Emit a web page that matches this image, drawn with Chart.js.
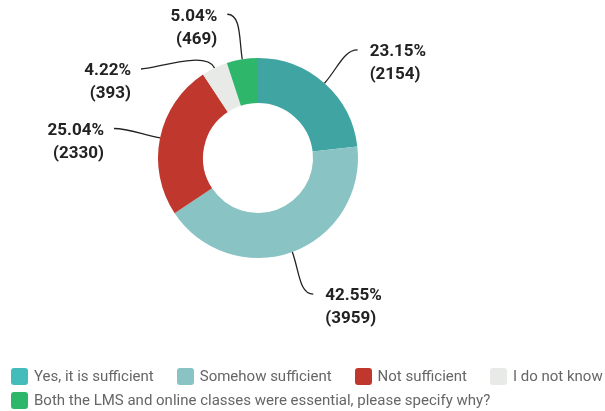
<!DOCTYPE html>
<html>
<head>
<meta charset="utf-8">
<script src="https://cdn.jsdelivr.net/npm/chart.js@4"></script>
<style>
  html, body { margin: 0; padding: 0; background: #fff; overflow: hidden; }
  #wrap { position: relative; width: 605px; height: 411px; }
  #legend {
    position: absolute; left: 11px; top: 367px; width: 640px;
    display: flex; flex-wrap: wrap; row-gap: 6px;
    font-family: Roboto, "Liberation Sans", sans-serif; font-size: 15px; color: #666;
  }
  .item { display: flex; align-items: center; margin-right: 23px; white-space: nowrap; height: 18px; }
  .box { width: 17px; height: 17px; border-radius: 3px; margin-right: 6px; }
</style>
</head>
<body>
<div id="wrap">
  <canvas id="donut" width="605" height="411"></canvas>
  <div id="legend"></div>
</div>
<script>
const answers = [
  'Yes, it is sufficient',
  'Somehow sufficient',
  'Not sufficient',
  'I do not know',
  'Both the LMS and online classes were essential, please specify why?'
];
const responses = [2154, 3959, 2330, 393, 469];
const sliceColors = ['#40a4a2', '#89c3c4', '#c0372e', '#e8eae7', '#2eb66a'];
const legendColors = ['#45bcbc', '#89c3c4', '#c0372e', '#e8eae7', '#2eb66a'];

// nudge (degrees) for callout ends so the small slices don't collide
const calloutShift = [1, -2, 0, -27, -3];

const total = responses.reduce((a, b) => a + b, 0);

const callouts = {
  id: 'callouts',
  afterDatasetsDraw(chart) {
    const ctx = chart.ctx;
    const meta = chart.getDatasetMeta(0);
    ctx.save();
    meta.data.forEach((arc, i) => {
      const p = arc.getProps(['x', 'y', 'startAngle', 'endAngle', 'outerRadius'], true);
      const mid = (p.startAngle + p.endAngle) / 2;
      const sx = p.x + Math.cos(mid) * p.outerRadius;
      const sy = p.y + Math.sin(mid) * p.outerRadius;
      const ea = mid + calloutShift[i] * Math.PI / 180;
      const ex = p.x + Math.cos(ea) * (p.outerRadius + 47);
      const ey = p.y + Math.sin(ea) * (p.outerRadius + 47);
      const right = Math.cos(ea) >= 0;

      ctx.beginPath();
      ctx.moveTo(sx, sy);
      ctx.bezierCurveTo(
        sx + Math.cos(mid) * 20, sy + Math.sin(mid) * 20,
        right ? ex - 14 : ex + 14, ey,
        ex, ey
      );
      ctx.strokeStyle = '#222';
      ctx.lineWidth = 1.3;
      ctx.stroke();

      const pct = (responses[i] / total * 100).toFixed(2) + '%';
      ctx.font = 'bold 17px Roboto, "Liberation Sans", sans-serif';
      ctx.fillStyle = '#222';
      ctx.textBaseline = 'middle';
      ctx.textAlign = right ? 'left' : 'right';
      const tx = right ? ex + 12 : ex - 10;
      ctx.fillText(pct, tx, ey + 2);
      ctx.fillText('(' + responses[i] + ')', tx, ey + 25);
    });
    ctx.restore();
  }
};

new Chart(document.getElementById('donut'), {
  type: 'doughnut',
  data: {
    labels: answers,
    datasets: [{
      data: responses,
      backgroundColor: sliceColors,
      borderWidth: 0
    }]
  },
  options: {
    responsive: false,
    animation: false,
    cutout: '55%',
    layout: { padding: { top: 58, bottom: 153, left: 158, right: 247 } },
    plugins: {
      legend: { display: false },
      tooltip: { enabled: false }
    }
  },
  plugins: [callouts]
});

const legend = document.getElementById('legend');
answers.forEach((a, i) => {
  const item = document.createElement('div');
  item.className = 'item';
  const box = document.createElement('span');
  box.className = 'box';
  box.style.background = legendColors[i];
  const label = document.createElement('span');
  label.textContent = a;
  item.appendChild(box);
  item.appendChild(label);
  legend.appendChild(item);
});
</script>
</body>
</html>
